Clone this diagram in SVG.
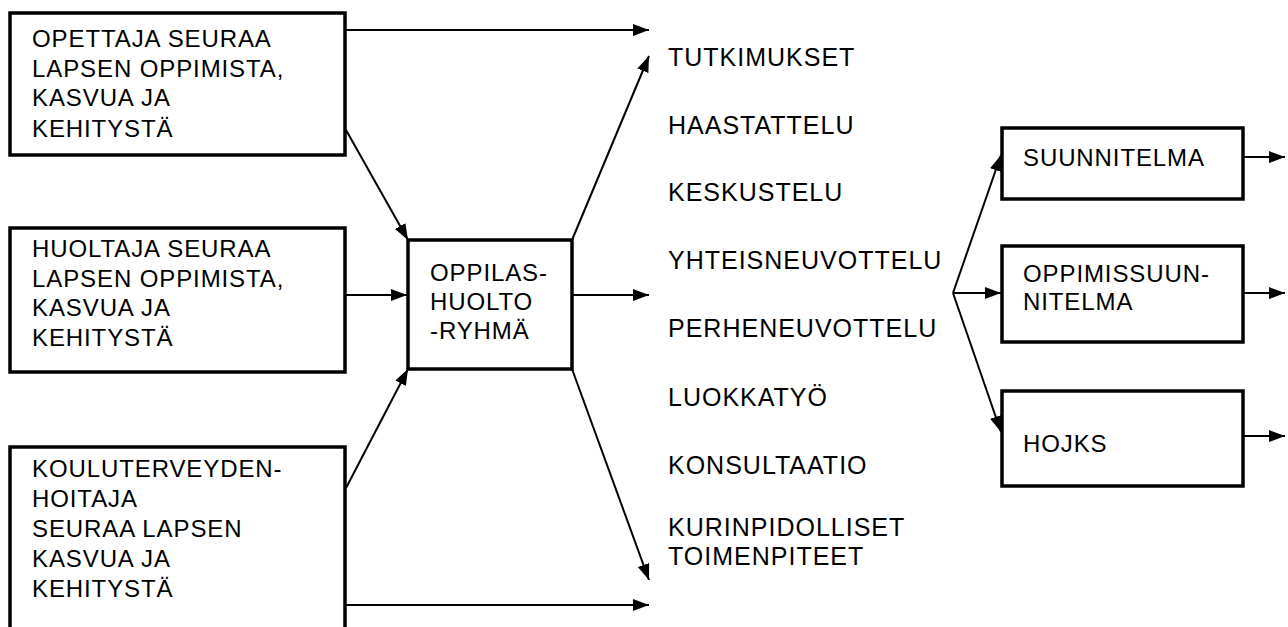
<svg xmlns="http://www.w3.org/2000/svg" width="1288" height="627" viewBox="0 0 1288 627">
<style>
.box{fill:#fff;stroke:#000;stroke-width:3.5}
.t{font-family:"Liberation Sans",Arial,sans-serif;font-size:24px;fill:#000;letter-spacing:0.9px}
.l{font-family:"Liberation Sans",Arial,sans-serif;font-size:25px;fill:#000;letter-spacing:1px}
.c{stroke:#000;stroke-width:2;fill:none;marker-end:url(#ah)}
</style>
<defs>
<marker id="ah" viewBox="0 0 16 12" refX="16" refY="6" markerWidth="16" markerHeight="12" markerUnits="userSpaceOnUse" orient="auto">
<path d="M0,0 L16,6 L0,12 z" fill="#000"/>
</marker>
</defs>
<rect width="1288" height="627" fill="#fff"/>
<g id="connectors">
<line class="c" x1="345" y1="30" x2="649" y2="30"/>
<line class="c" x1="346" y1="130" x2="408" y2="240"/>
<line class="c" x1="345" y1="295" x2="407" y2="295"/>
<line class="c" x1="346" y1="488" x2="408" y2="369"/>
<line class="c" x1="345" y1="605" x2="649" y2="605"/>
<line class="c" x1="572" y1="240" x2="649" y2="56"/>
<line class="c" x1="572" y1="295" x2="649" y2="295"/>
<line class="c" x1="572" y1="369" x2="649" y2="580"/>
<line class="c" x1="953" y1="293" x2="1001" y2="155"/>
<line class="c" x1="953" y1="293" x2="1001" y2="293"/>
<line class="c" x1="953" y1="293" x2="1001" y2="432"/>
<line class="c" x1="1243" y1="157" x2="1285" y2="157"/>
<line class="c" x1="1243" y1="293" x2="1285" y2="293"/>
<line class="c" x1="1243" y1="436" x2="1285" y2="436"/>
</g>
<g id="opettaja">
<rect class="box" x="10" y="13" width="335" height="142"/>
<text class="t" x="32" y="47">OPETTAJA SEURAA</text>
<text class="t" x="32" y="77">LAPSEN OPPIMISTA,</text>
<text class="t" x="32" y="106">KASVUA JA</text>
<text class="t" x="32" y="137">KEHITYSTÄ</text>
</g>
<g id="huoltaja">
<rect class="box" x="10" y="228" width="335" height="144"/>
<text class="t" x="32" y="257">HUOLTAJA SEURAA</text>
<text class="t" x="32" y="287">LAPSEN OPPIMISTA,</text>
<text class="t" x="32" y="316">KASVUA JA</text>
<text class="t" x="32" y="346">KEHITYSTÄ</text>
</g>
<g id="terveydenhoitaja">
<rect class="box" x="10" y="447" width="335" height="200"/>
<text class="t" x="32" y="477">KOULUTERVEYDEN-</text>
<text class="t" x="32" y="507">HOITAJA</text>
<text class="t" x="32" y="537">SEURAA LAPSEN</text>
<text class="t" x="32" y="567">KASVUA JA</text>
<text class="t" x="32" y="597">KEHITYSTÄ</text>
</g>
<g id="oppilashuolto">
<rect class="box" x="408" y="240" width="164" height="129"/>
<text class="t" x="430" y="281">OPPILAS-</text>
<text class="t" x="430" y="310">HUOLTO</text>
<text class="t" x="430" y="339">-RYHMÄ</text>
</g>
<g id="menetelmat">
<text class="l" x="668" y="66">TUTKIMUKSET</text>
<text class="l" x="668" y="134">HAASTATTELU</text>
<text class="l" x="668" y="201">KESKUSTELU</text>
<text class="l" x="668" y="269">YHTEISNEUVOTTELU</text>
<text class="l" x="668" y="337">PERHENEUVOTTELU</text>
<text class="l" x="668" y="406">LUOKKATYÖ</text>
<text class="l" x="668" y="474">KONSULTAATIO</text>
<text class="l" x="668" y="536">KURINPIDOLLISET</text>
<text class="l" x="668" y="565">TOIMENPITEET</text>
</g>
<g id="suunnitelma">
<rect class="box" x="1002" y="128" width="241" height="71"/>
<text class="t" x="1023" y="166">SUUNNITELMA</text>
</g>
<g id="oppimissuunnitelma">
<rect class="box" x="1002" y="246" width="241" height="96"/>
<text class="t" x="1023" y="282">OPPIMISSUUN-</text>
<text class="t" x="1023" y="310">NITELMA</text>
</g>
<g id="hojks">
<rect class="box" x="1002" y="391" width="241" height="95"/>
<text class="t" x="1023" y="452">HOJKS</text>
</g>
</svg>
